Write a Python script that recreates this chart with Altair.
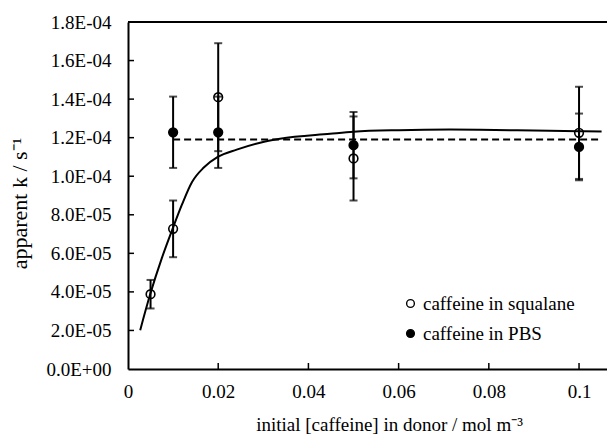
import altair as alt
import pandas as pd

# ---- data ----
sq_x = [0.005, 0.01, 0.02, 0.05, 0.1]
sq_y = [3.88e-5, 7.27e-5, 1.41e-4, 1.092e-4, 1.225e-4]
sq_err = [7.4e-6, 1.47e-5, 2.8e-5, 2.18e-5, 2.39e-5]

pbs_x = [0.01, 0.02, 0.05, 0.1]
pbs_y = [1.228e-4, 1.228e-4, 1.161e-4, 1.152e-4]
pbs_err = [1.85e-5, 1.85e-5, 1.72e-5, 1.73e-5]

fit_x = [0.0027, 0.0049, 0.0075, 0.0099, 0.012, 0.0142, 0.0168, 0.0199, 0.0241,
         0.0293, 0.0337, 0.0448, 0.05, 0.06, 0.0714, 0.078, 0.09, 0.1, 0.105]
fit_y = [2.01e-5, 3.86e-5, 5.75e-5, 7.28e-5, 8.55e-5, 9.7e-5, 1.045e-4, 1.10e-4, 1.138e-4,
         1.174e-4, 1.194e-4, 1.22e-4, 1.231e-4, 1.239e-4, 1.242e-4, 1.241e-4, 1.237e-4, 1.233e-4, 1.232e-4]

mean_x = [0.01, 0.105]
mean_y = [1.19e-4, 1.19e-4]

x_ticks = [0, 0.02, 0.04, 0.06, 0.08, 0.1]
y_ticks = [0, 2e-5, 4e-5, 6e-5, 8e-5, 1e-4, 1.2e-4, 1.4e-4, 1.6e-4, 1.8e-4]

series_names = ["caffeine in squalane", "caffeine in PBS"]
x_title = "initial [caffeine] in donor / mol m\u207b\u00b3"
y_title = "apparent k  / s\u207b\u00b9"

X_MAX = 0.1062
Y_MAX = 1.8e-4
W, H = 479, 347
FONT = "Liberation Serif"

pts = pd.DataFrame(
    [{"x": x, "y": y, "lo": y - e, "hi": y + e, "series": series_names[0]}
     for x, y, e in zip(sq_x, sq_y, sq_err)]
    + [{"x": x, "y": y, "lo": y - e, "hi": y + e, "series": series_names[1]}
       for x, y, e in zip(pbs_x, pbs_y, pbs_err)]
)
fit = pd.DataFrame({"x": fit_x, "y": fit_y})
mean = pd.DataFrame({"x": mean_x, "y": mean_y})
xt = pd.DataFrame({"x": x_ticks[1:]})
yt = pd.DataFrame({"y": y_ticks[1:-1]})

xs = alt.Scale(domain=[0, X_MAX], nice=False, zero=False)
ys = alt.Scale(domain=[0, Y_MAX], nice=False)

x_axis = alt.Axis(
    values=x_ticks, format=".2~f", labelPadding=13,
    title=x_title, titleX=261, titleY=61, titleAlign="center", titleBaseline="alphabetic",
)
y_axis = alt.Axis(
    values=y_ticks,
    labelExpr="replace(replace(format(datum.value, '.1e'), 'e-', 'E-0'), 'e+', 'E+0')",
    labelPadding=17,
    title=y_title, titleX=-102, titleY=181, titleAngle=-90, titleBaseline="alphabetic",
    titleAlign="center", titleFontSize=22,
)

X = alt.X("x:Q", scale=xs, axis=x_axis)
Y = alt.Y("y:Q", scale=ys, axis=y_axis)

fit_line = alt.Chart(fit).mark_line(color="black", strokeWidth=2, interpolate="monotone").encode(
    x=X, y=Y)
mean_line = alt.Chart(mean).mark_line(color="black", strokeWidth=2, strokeDash=[7, 4]).encode(
    x=X, y=Y)

stems = alt.Chart(pts).mark_rule(color="black", strokeWidth=2).encode(
    x=X, y=alt.Y("lo:Q", scale=ys, axis=y_axis), y2="hi:Q")
cap_lo = alt.Chart(pts).mark_tick(color="black", orient="horizontal", size=8, thickness=2).encode(
    x=X, y=alt.Y("lo:Q", scale=ys, axis=y_axis))
cap_hi = alt.Chart(pts).mark_tick(color="black", orient="horizontal", size=8, thickness=2).encode(
    x=X, y=alt.Y("hi:Q", scale=ys, axis=y_axis))

points = alt.Chart(pts).mark_point(shape="circle", size=75, strokeWidth=1.6, opacity=1,
                                   stroke="black").encode(
    x=X, y=Y,
    fill=alt.Fill("series:N",
                  scale=alt.Scale(domain=series_names, range=["transparent", "black"]),
                  legend=alt.Legend(
                      title=None, orient="none", legendX=273, legendY=272,
                      symbolType="circle", symbolSize=60, symbolStrokeColor="black",
                      symbolStrokeWidth=1.4, labelOffset=3, rowPadding=10,
                      labelLimit=300)),
)

top_border = alt.Chart(pd.DataFrame({"y": [Y_MAX]})).mark_rule(color="black", strokeWidth=2).encode(
    y=Y, x=alt.value(0), x2=alt.value(W))

x_tickmarks = alt.Chart(xt).mark_rule(color="black", strokeWidth=1.5).encode(
    x=X, y=alt.value(H), y2=alt.value(H - 6))
y_tickmarks = alt.Chart(yt).mark_rule(color="black", strokeWidth=1.5).encode(
    y=Y, x=alt.value(0), x2=alt.value(6))

chart = alt.layer(
    fit_line, mean_line, stems, cap_lo, cap_hi, points, top_border, x_tickmarks, y_tickmarks
).properties(
    width=W, height=H,
    padding={"left": 128, "top": 22, "right": 0, "bottom": 66},
    autosize=alt.AutoSizeParams(type="none"),
    background="white",
).configure_view(stroke=None).configure_axis(
    ticks=False, grid=False, domainColor="black", domainWidth=2,
    labelFont=FONT, labelFontSize=19, labelColor="black",
    labelOverlap=False, labelFlush=False,
    titleFont=FONT, titleFontSize=19, titleFontWeight="normal", titleColor="black",
).configure_legend(
    labelFont=FONT, labelFontSize=19, labelColor="black",
).configure_text(font=FONT)

chart.save("out.html", embed_options={"renderer": "svg", "actions": False})
